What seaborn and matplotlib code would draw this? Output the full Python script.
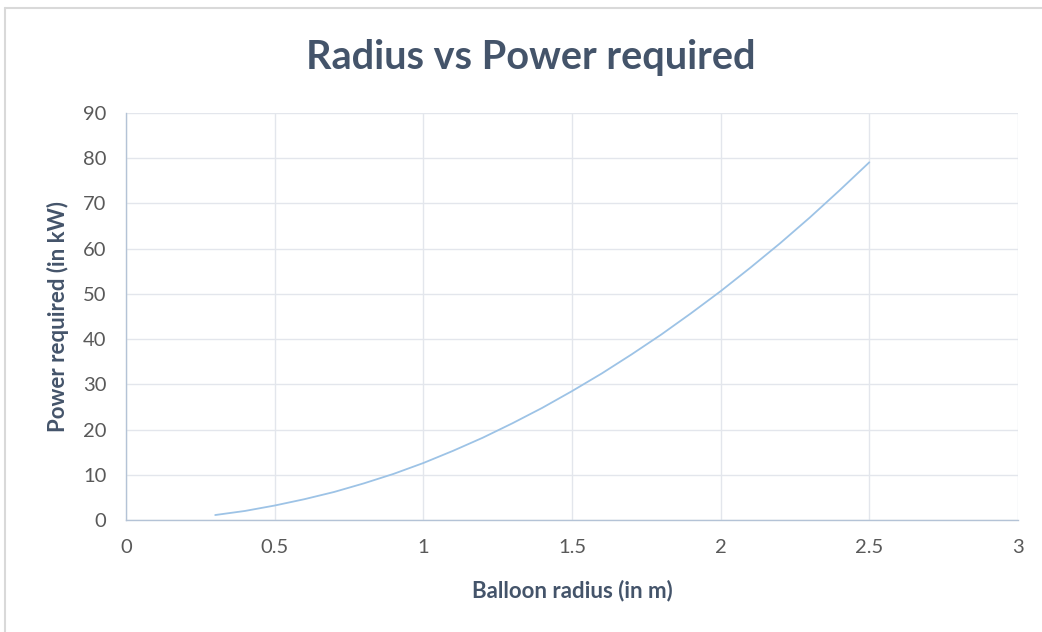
import matplotlib
matplotlib.use("Agg")
import matplotlib.pyplot as plt
import seaborn as sns
import pandas as pd
from matplotlib.lines import Line2D

radius = [0.3, 0.4, 0.5, 0.6, 0.7, 0.8, 0.9, 1.0, 1.1, 1.2, 1.3, 1.4, 1.5,
          1.6, 1.7, 1.8, 1.9, 2.0, 2.1, 2.2, 2.3, 2.4, 2.5]
power = [1.1, 2.0, 3.2, 4.6, 6.2, 8.1, 10.2, 12.6, 15.3, 18.2, 21.4, 24.8, 28.5,
         32.4, 36.6, 41.0, 45.7, 50.6, 55.8, 61.2, 66.9, 72.9, 79.1]
x_ticks = [0, 0.5, 1, 1.5, 2, 2.5, 3]
x_tick_labels = ["0", "0.5", "1", "1.5", "2", "2.5", "3"]
y_ticks = [0, 10, 20, 30, 40, 50, 60, 70, 80, 90]

sns.set_theme(style="white")
plt.rcParams['font.family'] = ['Lato', 'DejaVu Sans']

df = pd.DataFrame({"radius": radius, "power": power})

fig = plt.figure(figsize=(10.42, 6.32), dpi=100)
ax = fig.add_axes([126/1042, 1 - 520/632, (1018-126)/1042, (520-113)/632])

sns.lineplot(data=df, x="radius", y="power", ax=ax, color="#9DC3E6", linewidth=1.3)

ax.set_xlim(0, 3)
ax.set_ylim(0, 90)
ax.set_xticks(x_ticks)
ax.set_xticklabels(x_tick_labels)
ax.set_yticks(y_ticks)
ax.grid(True, color="#E3E6EC", linewidth=1.0)
ax.set_axisbelow(True)
for s in ["top", "right"]:
    ax.spines[s].set_visible(False)
for s in ["left", "bottom"]:
    ax.spines[s].set_color("#B4C3D6")
    ax.spines[s].set_linewidth(1.0)
ax.tick_params(axis="both", length=0, labelsize=14.5, colors="#595959")
ax.tick_params(axis="x", pad=14)
ax.tick_params(axis="y", pad=14)

ax.set_xlabel("Balloon radius (in m)", fontsize=16, fontweight="bold", color="#44546A", labelpad=17)
ax.set_ylabel("Power required (in kW)", fontsize=16, fontweight="bold", color="#44546A", labelpad=10)

fig.text(531/1042, 1 - 57/632, "Radius vs Power required", ha="center", va="center",
         fontsize=28.5, fontweight="bold", color="#44546A")

# chart frame
fig.add_artist(Line2D([5/1042, 1], [1 - 8/632, 1 - 8/632], transform=fig.transFigure, color="#D9D9D9", linewidth=1.5))
fig.add_artist(Line2D([5/1042, 5/1042], [0, 1 - 8/632], transform=fig.transFigure, color="#D9D9D9", linewidth=1.5))

fig.savefig("out.png", dpi=100, facecolor="white")
